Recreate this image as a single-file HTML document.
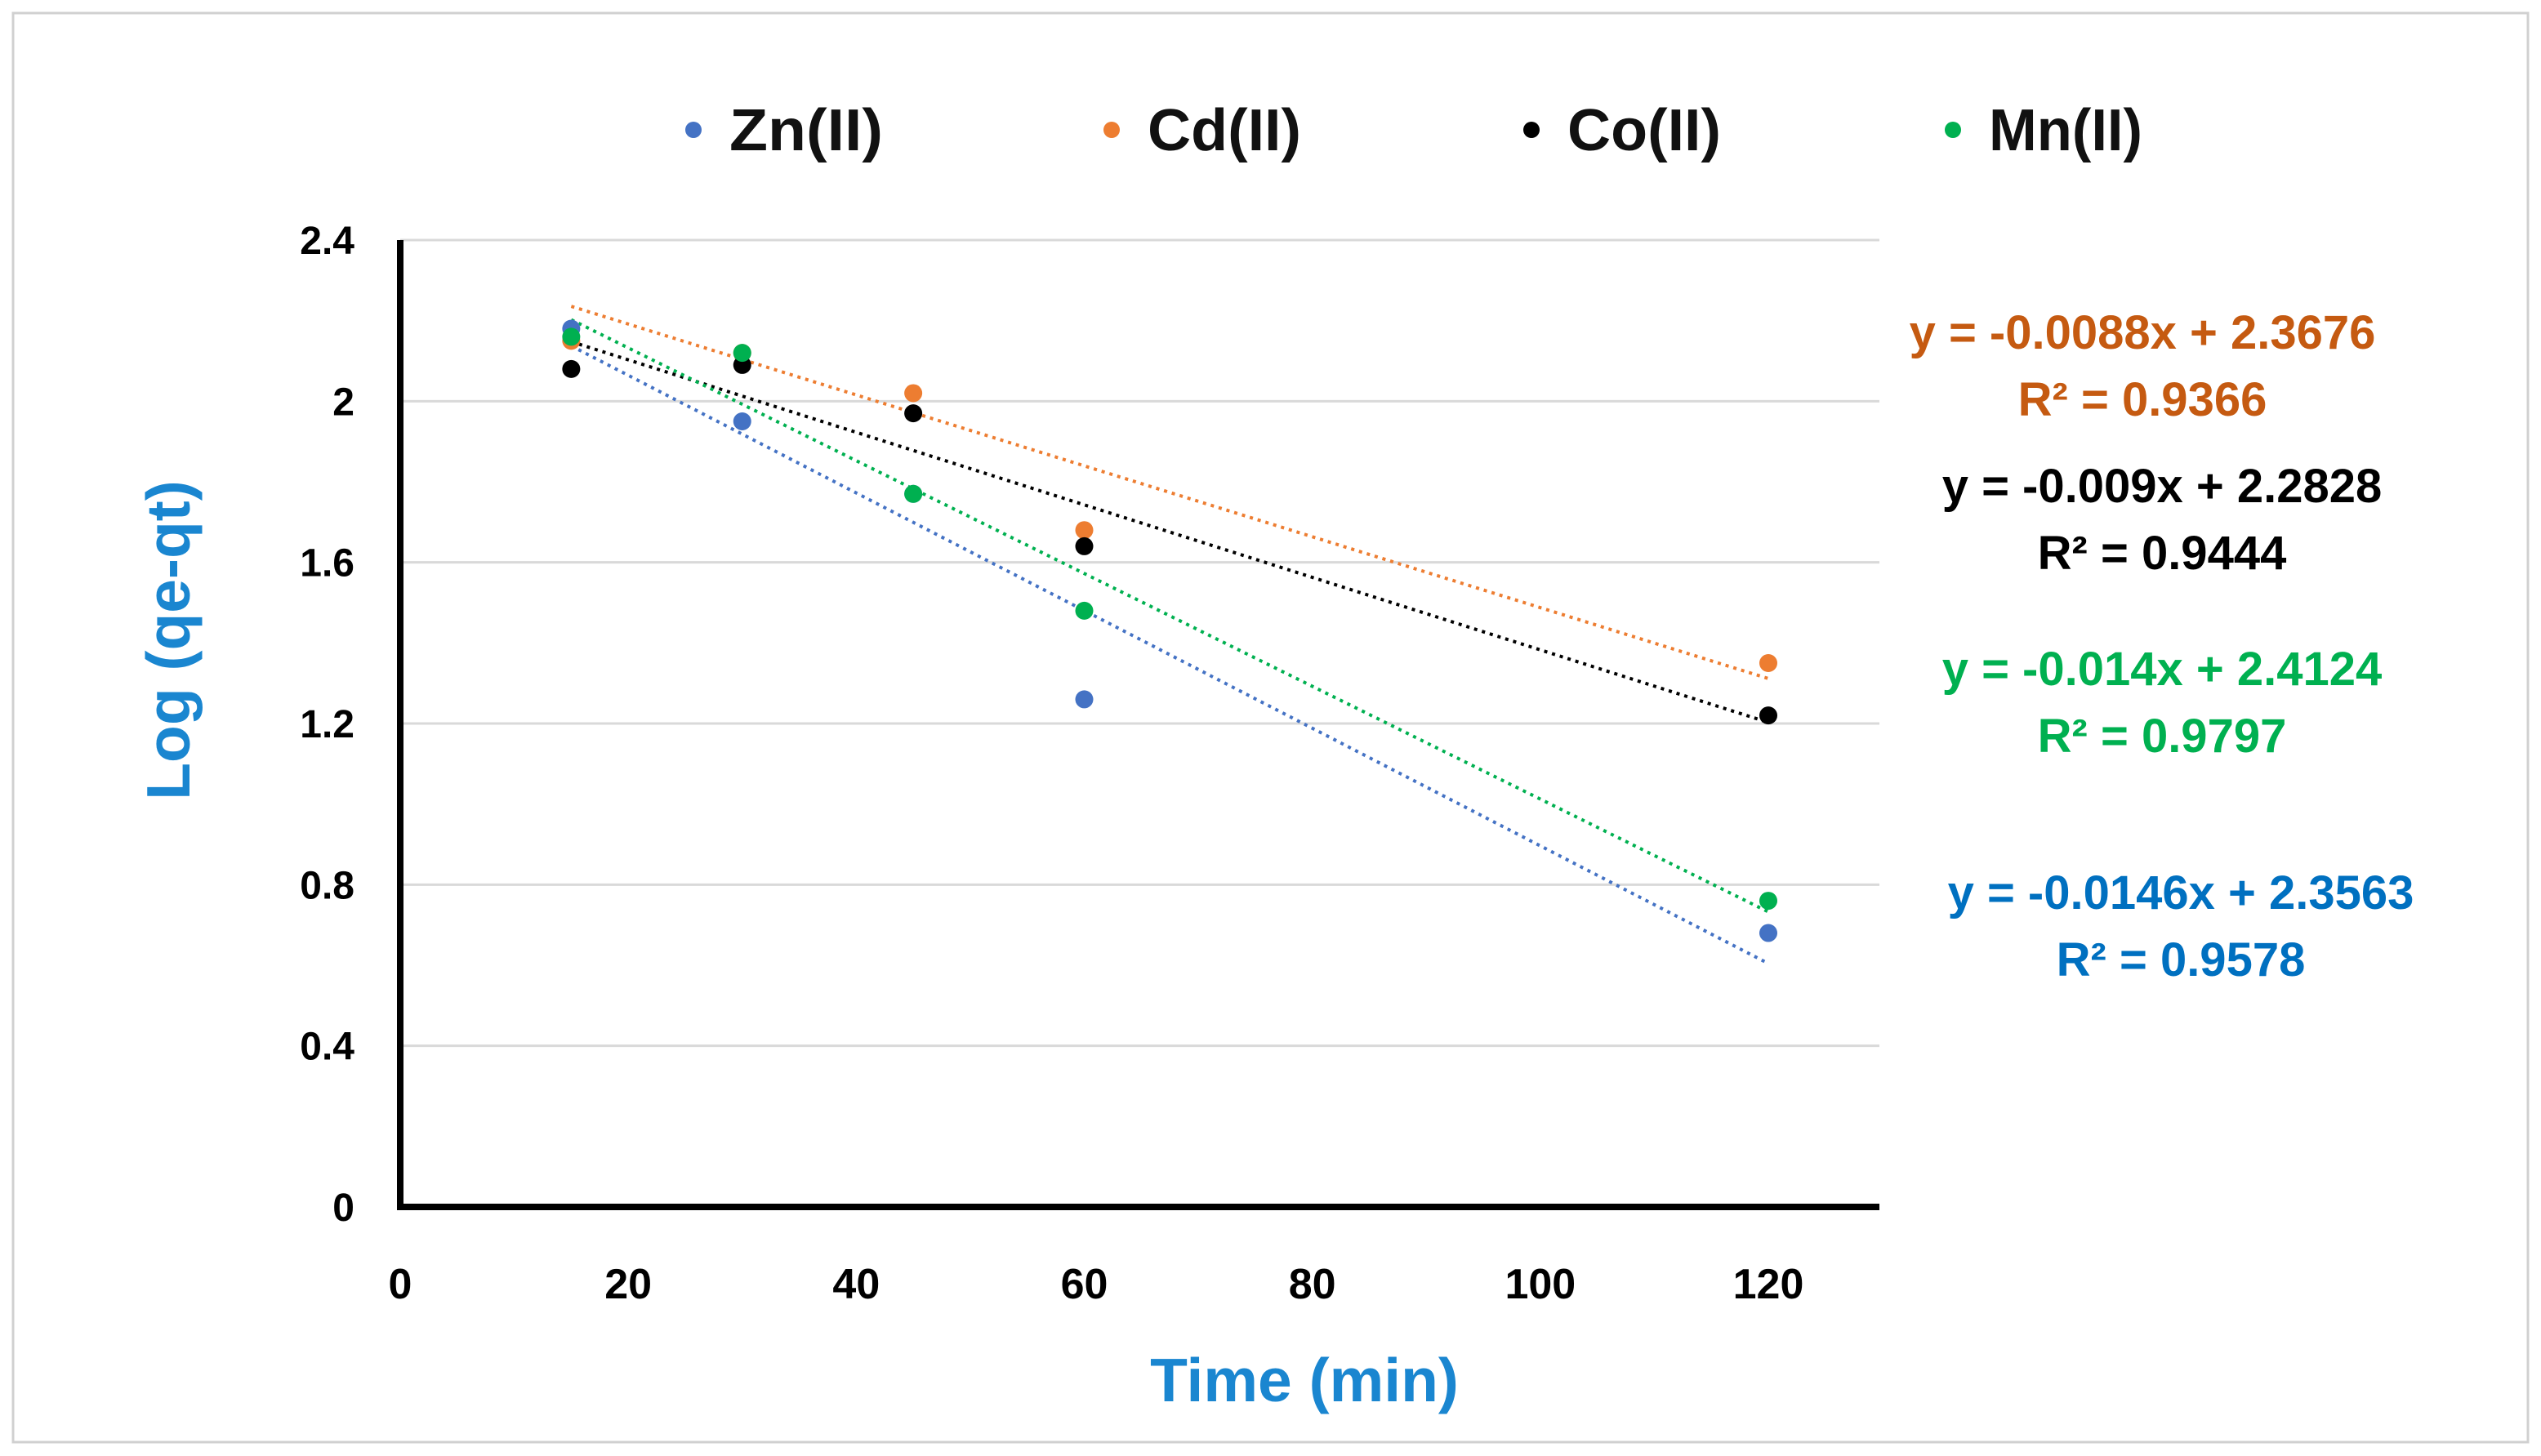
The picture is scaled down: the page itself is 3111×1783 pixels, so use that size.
<!DOCTYPE html>
<html><head><meta charset="utf-8"><style>
html,body{margin:0;padding:0;background:#fff;}
svg{display:block;font-family:"Liberation Sans",sans-serif;}
</style></head><body>
<svg id="chart" width="3111" height="1783" viewBox="0 0 3111 1783" xmlns="http://www.w3.org/2000/svg">
<rect x="16" y="16" width="3079" height="1750" fill="#fff" stroke="#d0d0d0" stroke-width="3"/>
<g id="grid"></g>
<g id="trends"></g>
<g id="points"></g>
<line x1="490" y1="294" x2="490" y2="1482" stroke="#000" stroke-width="8"/>
<line x1="486" y1="1478" x2="2301" y2="1478" stroke="#000" stroke-width="8"/>
<g id="yticks"></g>
<g id="xticks"></g>
<text x="1597" y="1716" text-anchor="middle" font-size="75" font-weight="bold" fill="#1a86d0">Time (min)</text>
<text transform="translate(232,784) rotate(-90)" text-anchor="middle" font-size="75" font-weight="bold" fill="#1a86d0">Log (qe-qt)</text>
<g id="legend"></g>
<g id="eqs"></g>
</svg>
<script>
const times = [15, 30, 45, 60, 120];
const znValues = [2.18, 1.95, 1.77, 1.26, 0.68];
const cdValues = [2.15, 2.12, 2.02, 1.68, 1.35];
const coValues = [2.08, 2.09, 1.97, 1.64, 1.22];
const mnValues = [2.16, 2.12, 1.77, 1.48, 0.76];
const seriesNames = ["Zn(II)", "Cd(II)", "Co(II)", "Mn(II)"];
const slopes = [-0.0146, -0.0088, -0.009, -0.014];
const intercepts = [2.3563, 2.3676, 2.2828, 2.4124];
const eqLabels = ["y = -0.0146x + 2.3563", "y = -0.0088x + 2.3676", "y = -0.009x + 2.2828", "y = -0.014x + 2.4124"];
const r2Labels = ["R² = 0.9578", "R² = 0.9366", "R² = 0.9444", "R² = 0.9797"];
const yTicks = [0, 0.4, 0.8, 1.2, 1.6, 2, 2.4];
const xTicks = [0, 20, 40, 60, 80, 100, 120];

const NS = "http://www.w3.org/2000/svg";
const allValues = [znValues, cdValues, coValues, mnValues];
const colors = ["#4472c4", "#ed7d31", "#000000", "#00b050"];
const trendColors = ["#4472c4", "#ed7d31", "#000000", "#00b050"];
const eqColors = ["#0070c0", "#c55a11", "#000000", "#00b050"];
const eqPos = [[2670, 1093], [2623, 407], [2647, 595], [2647, 819]];
const legendX = [849, 1361, 1875, 2391];

function xs(v) { return 490 + v * (2165 - 490) / 120; }
function ys(v) { return 1478 - v * (1478 - 294) / 2.4; }
function mk(tag, attrs, parent) {
  const e = document.createElementNS(NS, tag);
  for (const k in attrs) e.setAttribute(k, attrs[k]);
  parent.appendChild(e);
  return e;
}
const grid = document.getElementById("grid");
yTicks.forEach(t => {
  if (t === 0) return;
  const l = mk("line", {x1: 490, x2: 2301, y1: ys(t), y2: ys(t), stroke: "#d9d9d9", "stroke-width": 3}, grid);
  
  
});
const yt = document.getElementById("yticks");
yTicks.forEach(t => {
  const e = mk("text", {x: 434, y: ys(t) + 17, "text-anchor": "end", "font-size": 48, "font-weight": "bold", fill: "#000"}, yt);
  e.textContent = String(t);
  
  
});
const xt = document.getElementById("xticks");
xTicks.forEach(t => {
  const e = mk("text", {x: xs(t), y: 1590, "text-anchor": "middle", "font-size": 52, "font-weight": "bold", fill: "#000"}, xt);
  e.textContent = String(t);
  
  
});
const tr = document.getElementById("trends");
slopes.forEach((m, i) => {
  const x0 = times[0], x1 = times[times.length - 1];
  const l = mk("line", {x1: xs(x0), y1: ys(m * x0 + intercepts[i]), x2: xs(x1), y2: ys(m * x1 + intercepts[i]), stroke: trendColors[i], "stroke-width": 4, "stroke-dasharray": "4 6"}, tr);
  
  
});
const pts = document.getElementById("points");
allValues.forEach((vals, i) => {
  vals.forEach((v, j) => {
    const c = mk("circle", {cx: xs(times[j]), cy: ys(v), r: 11, fill: colors[i]}, pts);
    
    
  });
});
const lg = document.getElementById("legend");
seriesNames.forEach((n, i) => {
  const c = mk("circle", {cx: legendX[i], cy: 159, r: 10, fill: colors[i]}, lg);
  
  
  const t = mk("text", {x: legendX[i] + 44, y: 184, "font-size": 72, "font-weight": "bold", fill: "#111", textLength: 188, lengthAdjust: "spacingAndGlyphs"}, lg);
  t.textContent = n;
  
  
});
const eq = document.getElementById("eqs");
eqLabels.forEach((s, i) => {
  const [cx, cy] = eqPos[i];
  const a = mk("text", {x: cx, y: cy + 20, "text-anchor": "middle", "font-size": 58, "font-weight": "bold", fill: eqColors[i]}, eq);
  a.textContent = s;
  
  
  const b = mk("text", {x: cx, y: cy + 102, "text-anchor": "middle", "font-size": 58, "font-weight": "bold", fill: eqColors[i]}, eq);
  b.textContent = r2Labels[i];
  
  
});
</script>
</body></html>
